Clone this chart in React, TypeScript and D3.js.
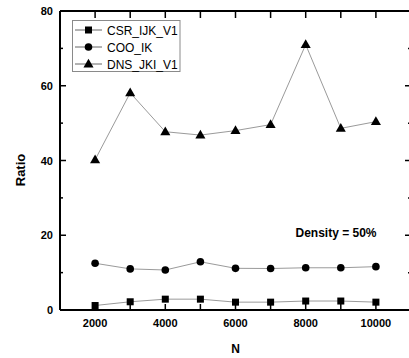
import React from "react";
import * as d3 from "d3";

const sizes = [2000, 3000, 4000, 5000, 6000, 7000, 8000, 9000, 10000];
const csrIjkV1 = [1.2, 2.2, 2.9, 2.9, 2.1, 2.1, 2.4, 2.4, 2.1];
const cooIk = [12.5, 11.0, 10.7, 12.9, 11.15, 11.1, 11.3, 11.3, 11.6];
const dnsJkiV1 = [40.2, 58.1, 47.7, 46.8, 48.0, 49.6, 71.0, 48.6, 50.4];

const seriesNames = ["CSR_IJK_V1", "COO_IK", "DNS_JKI_V1"];
const xTickLabels = [2000, 4000, 6000, 8000, 10000];
const yTickLabels = [0, 20, 40, 60, 80];
const annotation = "Density = 50%";

const W = 409;
const H = 358;
const left = 60;
const right = 411;
const top = 11;
const bottom = 310;

const x = d3.scaleLinear().domain([1000, 11000]).range([left, right]);
const y = d3.scaleLinear().domain([0, 80]).range([bottom, top]);

const font = "'Liberation Sans', Arial, sans-serif";
const lineColor = "#9a9a9a";

type Shape = "square" | "circle" | "triangle";

function Marker({ cx, cy, shape }: { cx: number; cy: number; shape: Shape }) {
  if (shape === "square") {
    return <rect x={cx - 3.5} y={cy - 3.5} width={7} height={7} fill="#000" />;
  }
  if (shape === "circle") {
    return <circle cx={cx} cy={cy} r={3.8} fill="#000" />;
  }
  const path = d3.symbol(d3.symbolTriangle, 44)();
  return <path d={path || ""} transform={`translate(${cx},${cy + 0.5})`} fill="#000" />;
}

export default function App() {
  const series: { name: string; values: number[]; shape: Shape }[] = [
    { name: seriesNames[0], values: csrIjkV1, shape: "square" },
    { name: seriesNames[1], values: cooIk, shape: "circle" },
    { name: seriesNames[2], values: dnsJkiV1, shape: "triangle" },
  ];
  const line = d3
    .line<[number, number]>()
    .x((d) => x(d[0]))
    .y((d) => y(d[1]));

  const xTicks = d3.range(1000, 11001, 1000);
  const yMajor = d3.range(0, 81, 20);
  const yMinor = d3.range(10, 80, 20);

  return (
    <svg
      width={W}
      height={H}
      style={{ position: "absolute", left: 0, top: 0, background: "#fff", overflow: "hidden" }}
      fontFamily={font}
    >
      <rect width={W} height={H} fill="#fff" />

      {/* series lines and markers */}
      {series.map((s) => (
        <g key={s.name}>
          <path
            d={line(sizes.map((n, i) => [n, s.values[i]] as [number, number])) || ""}
            fill="none"
            stroke={lineColor}
            strokeWidth={1}
          />
          {sizes.map((n, i) => (
            <Marker key={n} cx={x(n)} cy={y(s.values[i])} shape={s.shape} />
          ))}
        </g>
      ))}

      {/* frame; the right edge of the box falls just outside the canvas */}
      <g stroke="#000" strokeWidth={2} fill="none">
        <line x1={left} x2={W} y1={top} y2={top} />
        <line x1={left} x2={W} y1={bottom} y2={bottom} />
        <line x1={left} x2={left} y1={top} y2={bottom} />
      </g>

      {/* ticks, pointing inward on every side */}
      <g stroke="#000" strokeWidth={1.5}>
        {xTicks.map((t) => (
          <g key={t}>
            <line x1={x(t)} x2={x(t)} y1={bottom} y2={bottom - 6} />
            <line x1={x(t)} x2={x(t)} y1={top} y2={top + 7} />
          </g>
        ))}
        {yMajor.map((t) => (
          <g key={t}>
            <line x1={left} x2={left + 6} y1={y(t)} y2={y(t)} />
            <line x1={right} x2={right - 6} y1={y(t)} y2={y(t)} />
          </g>
        ))}
        {yMinor.map((t) => (
          <g key={t}>
            <line x1={left} x2={left + 3} y1={y(t)} y2={y(t)} />
            <line x1={right} x2={right - 3} y1={y(t)} y2={y(t)} />
          </g>
        ))}
      </g>

      {/* tick labels */}
      <g fontSize={11} fontWeight="bold" fill="#000">
        {xTickLabels.map((t) => (
          <text key={t} x={x(t)} y={bottom + 17} textAnchor="middle">
            {t}
          </text>
        ))}
        {yTickLabels.map((t) => (
          <text key={t} x={left - 7} y={y(t) + 4} textAnchor="end">
            {t}
          </text>
        ))}
      </g>

      {/* axis titles */}
      <text x={235.5} y={353} fontSize={12} fontWeight="bold" textAnchor="middle">
        N
      </text>
      <text
        transform={`translate(24.5,170) rotate(-90)`}
        fontSize={13}
        fontWeight="bold"
        textAnchor="middle"
      >
        Ratio
      </text>

      {/* annotation */}
      <text x={336} y={237} fontSize={12} fontWeight="bold" textAnchor="middle">
        {annotation}
      </text>

      {/* legend */}
      <rect x={72.5} y={20.5} width={107.5} height={51} fill="#fff" stroke="#8a8a8a" strokeWidth={1} />
      {series.map((s, i) => {
        const ly = 30 + i * 17;
        return (
          <g key={s.name}>
            <line x1={75} x2={102} y1={ly} y2={ly} stroke="#666" strokeWidth={1} />
            <Marker cx={88.5} cy={ly} shape={s.shape} />
            <text x={107} y={ly + 4.5} fontSize={12} fill="#000">
              {s.name}
            </text>
          </g>
        );
      })}
    </svg>
  );
}
